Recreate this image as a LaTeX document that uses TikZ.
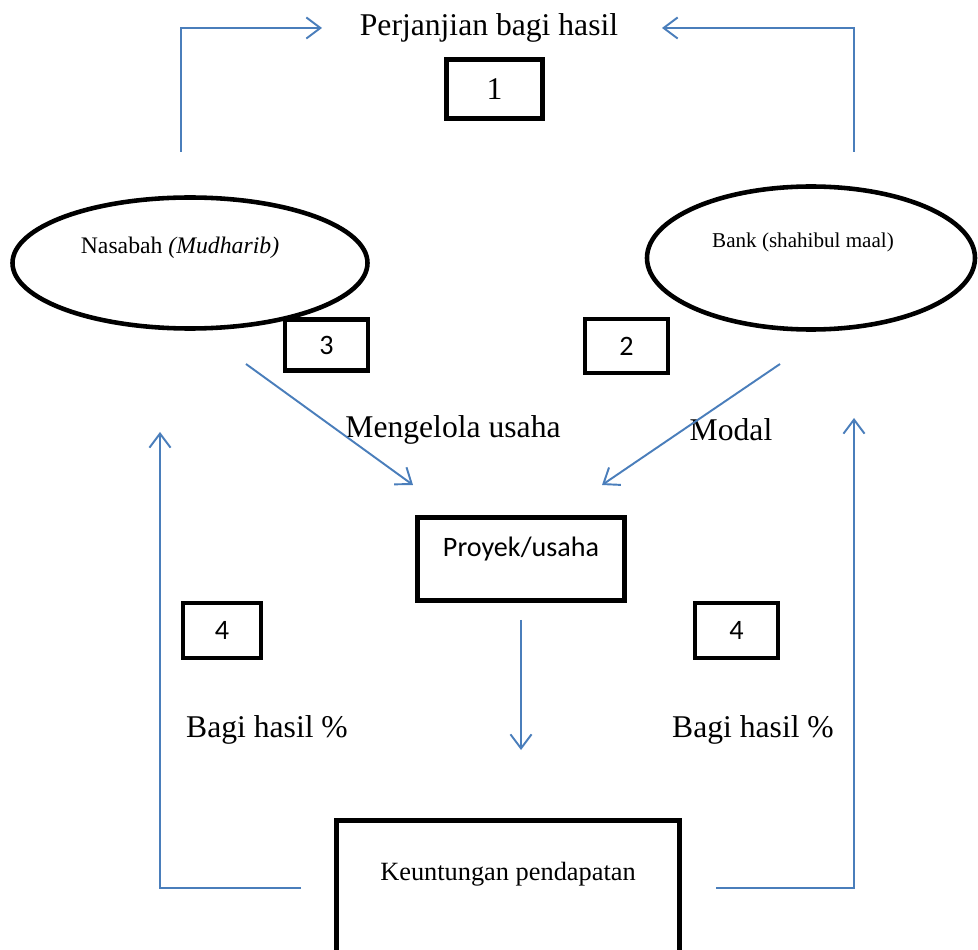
\documentclass[tikz,border=0pt]{standalone}
\usepackage{fontspec}
\setmainfont{Liberation Serif}
\newfontfamily\calibri{Carlito}
\usepackage{tikz}
\usetikzlibrary{calc, arrows.meta, shapes.geometric, positioning}
\usepackage{tkz-euclide}
\definecolor{lineblue}{RGB}{74,126,187}

\begin{document}
\begin{tikzpicture}[>={Straight Barb[length=8pt,width=12pt]}, scale=1,
  flow/.style={->, draw=lineblue, line width=1.1pt},
  oval/.style={ellipse, draw, line width=2.6pt, inner sep=0pt},
  kotak/.style={draw, line width=2.8pt, inner sep=0pt},
  nomor/.style={kotak, font=\calibri\fontsize{16}{18}\selectfont},
  besar/.style={font=\fontsize{18}{20}\selectfont}]
\clip (0,0) rectangle (19.56,18.98);
\tkzDefPoints{3.62/15.94/a, 6.44/18.42/c, 17.08/15.94/d, 13.24/18.42/f}
\tkzDefPoints{4.92/11.70/g, 8.26/9.28/h, 15.60/11.70/i, 12.04/9.28/j}
\tkzDefPoints{10.42/6.58/k, 10.42/3.98/l}
\tkzDefPoints{6.02/1.22/m, 3.20/10.34/o, 14.32/1.22/p, 17.08/10.62/r}
\node[besar] (judul) at (9.78,18.42) {Perjanjian bagi hasil};
\node[kotak, besar, minimum width=1.92cm, minimum height=1.18cm] (n1) at (9.89,17.20) {1};
\node[oval, minimum width=7.1cm, minimum height=2.62cm,
  label={[font=\fontsize{13.5}{15}\selectfont, xshift=-0.2cm, yshift=0.3cm]center:Nasabah \textit{(Mudharib)}}] (nasabah) at (3.80,13.72) {};
\node[oval, minimum width=6.56cm, minimum height=2.86cm,
  label={[font=\fontsize{12}{14}\selectfont, xshift=-0.16cm, yshift=0.32cm]center:Bank (shahibul maal)}] (bank) at (16.22,13.82) {};
\node[nomor, minimum width=1.66cm, minimum height=1.02cm] (n3) at (6.53,12.08) {3};
\node[nomor, minimum width=1.66cm, minimum height=1.08cm] (n2) at (12.53,12.06) {2};
\node[besar] (kelola) at (9.06,10.38) {Mengelola usaha};
\node[besar] (modal) at (14.62,10.38) {Modal};
\node[kotak, minimum width=4.14cm, minimum height=1.66cm,
  label={[font=\calibri\fontsize{16}{18}\selectfont, yshift=0.2cm]center:Proyek/usaha}] (proyek) at (10.42,7.80) {};
\node[nomor, minimum width=1.56cm, minimum height=1.10cm] (n4a) at (4.44,6.37) {4};
\node[nomor, minimum width=1.66cm, minimum height=1.10cm] (n4b) at (14.73,6.37) {4};
\node[besar] (bagikiri) at (5.34,4.38) {Bagi hasil \%};
\node[besar] (bagikanan) at (15.06,4.38) {Bagi hasil \%};
\node[kotak, minimum width=6.86cm, minimum height=2.74cm,
  label={[font=\fontsize{15}{17}\selectfont, yshift=0.3cm]center:Keuntungan pendapatan}] (untung) at (10.16,1.20) {};
\draw[flow] (a) |- (c);
\draw[flow] (d) |- (f);
\draw[flow] (g) -- (h);
\draw[flow] (i) -- (j);
\draw[flow] (k) -- (l);
\draw[flow] (m) -| (o);
\draw[flow] (p) -| (r);
\end{tikzpicture}
\end{document}
